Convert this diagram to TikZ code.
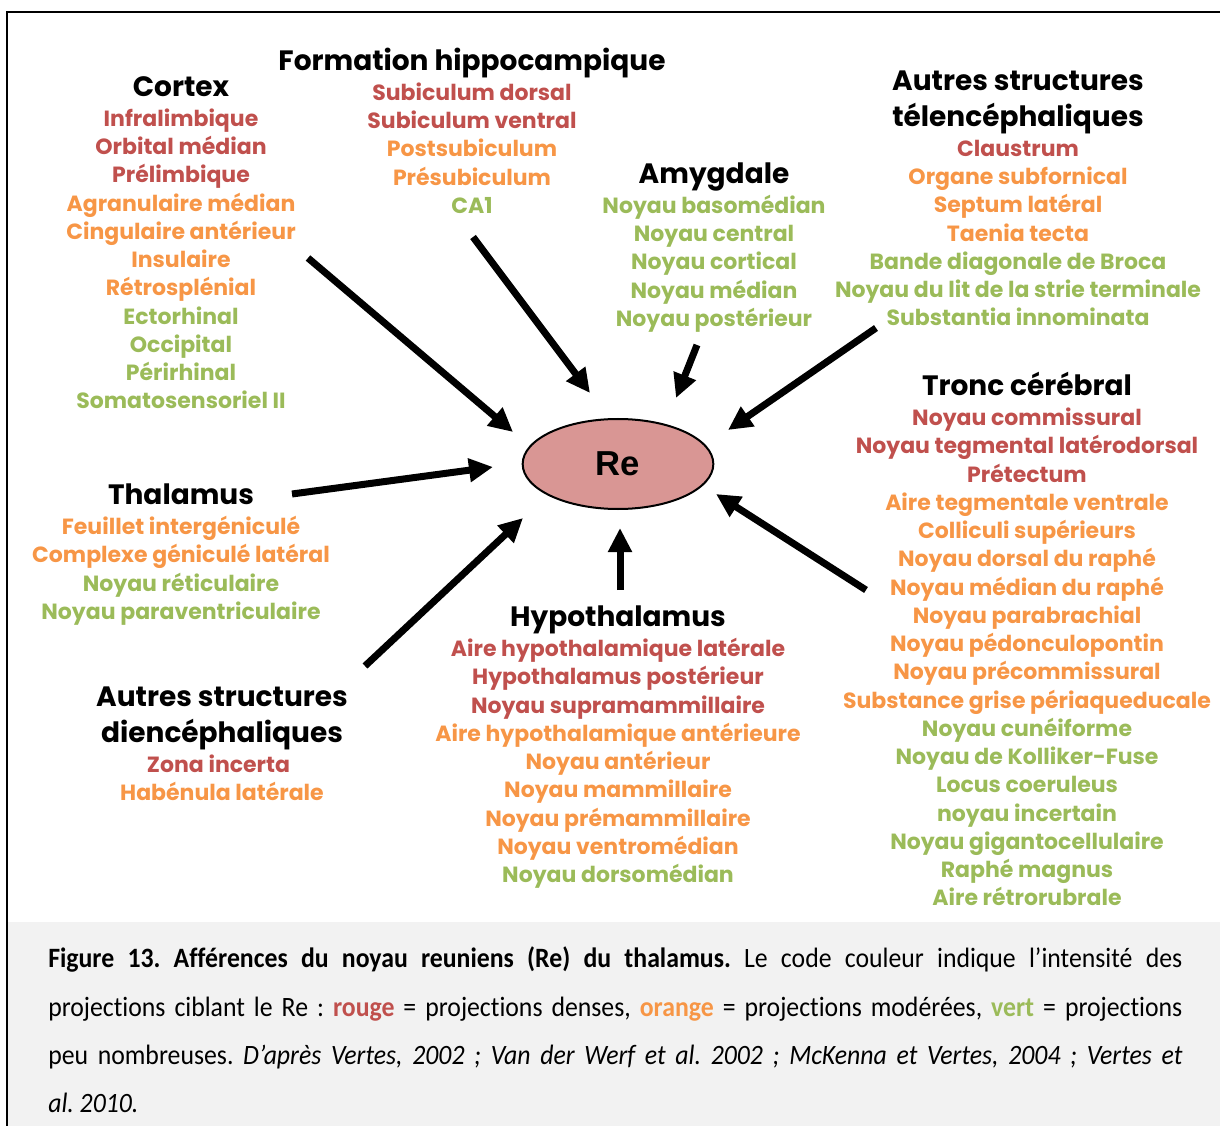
\documentclass[tikz,border=0pt]{standalone}
\usepackage{fontspec}
\setmainfont{Poppins}
\newfontfamily\capfont[Ligatures=NoCommon]{Carlito}
\newfontfamily\refont{Liberation Sans}
\usetikzlibrary{arrows.meta,shapes.geometric}
\definecolor{cred}{HTML}{C0504D}
\definecolor{corg}{HTML}{F79646}
\definecolor{cgrn}{HTML}{9BBB59}
\definecolor{refill}{HTML}{D99694}
\definecolor{capgray}{HTML}{F2F2F2}
\frenchspacing
\newcommand\capline[1]{\scalebox{0.92}[1]{\makebox[924.5pt][s]{#1}}}
\begin{document}
\begin{tikzpicture}[x=0.75pt,y=-0.75pt,
  lbl/.style={anchor=base,inner sep=0pt,font=\fontsize{16.5}{19}\selectfont\bfseries},
  hdr/.style={anchor=base,inner sep=0pt,font=\fontsize{21}{25}\selectfont\bfseries},
  arr/.style={line width=5.25pt,-{Triangle[length=18pt,width=17pt]}},
  capl/.style={anchor=base west,inner sep=0pt,font=\capfont\fontsize{21}{24}\selectfont}]
\useasboundingbox (0,0) rectangle (1220,1126);
% caption background and frame
\fill[capgray] (7,922) rectangle (1220,1126);
\draw[line width=1.5pt] (7,1126) -- (7,12) -- (1220,12);

% central node
\node[ellipse,draw,line width=1.5pt,fill=refill,minimum width=143pt,minimum height=67.5pt,inner sep=0pt,
      font=\refont\bfseries\fontsize{26}{30}\selectfont] (re) at (618,464) {Re};

% Cortex
\node[hdr] (hcortex) at (181,97) {Cortex};
\foreach \t/\c [count=\i from 0] in {Infralimbique/cred,Orbital médian/cred,Prélimbique/cred,
  Agranulaire médian/corg,Cingulaire antérieur/corg,Insulaire/corg,Rétrosplénial/corg,
  Ectorhinal/cgrn,Occipital/cgrn,Périrhinal/cgrn,Somatosensoriel II/cgrn}
  \node[lbl,text=\c] (cx\i) at (181,126.5+28.25*\i) {\t};

% Formation hippocampique
\node[hdr] (hhippo) at (472,71) {Formation hippocampique};
\foreach \t/\c [count=\i from 0] in {Subiculum dorsal/cred,Subiculum ventral/cred,
  Postsubiculum/corg,Présubiculum/corg,CA1/cgrn}
  \node[lbl,text=\c] (hp\i) at (472,100.5+28.25*\i) {\t};

% Amygdale
\node[hdr] (hamyg) at (714,184) {Amygdale};
\foreach \t/\c [count=\i from 0] in {Noyau basomédian/cgrn,Noyau central/cgrn,
  Noyau cortical/cgrn,Noyau médian/cgrn,Noyau postérieur/cgrn}
  \node[lbl,text=\c] (am\i) at (714,213.5+28.25*\i) {\t};

% Autres structures telencephaliques
\node[hdr] (htel1) at (1018,91) {Autres structures};
\node[hdr] (htel2) at (1018,127) {télencéphaliques};
\foreach \t/\c [count=\i from 0] in {Claustrum/cred,Organe subfornical/corg,Septum latéral/corg,
  Taenia tecta/corg,Bande diagonale de Broca/cgrn,Noyau du lit de la strie terminale/cgrn,
  Substantia innominata/cgrn}
  \node[lbl,text=\c] (te\i) at (1018,156.5+28.25*\i) {\t};

% Tronc cerebral
\node[hdr] (htronc) at (1027,396) {Tronc cérébral};
\foreach \t/\c [count=\i from 0] in {Noyau commissural/cred,Noyau tegmental latérodorsal/cred,
  Prétectum/cred,Aire tegmentale ventrale/corg,Colliculi supérieurs/corg,
  Noyau dorsal du raphé/corg,Noyau médian du raphé/corg,Noyau parabrachial/corg,
  Noyau pédonculopontin/corg,Noyau précommissural/corg,Substance grise périaqueducale/corg,
  Noyau cunéiforme/cgrn,Noyau de Kolliker-Fuse/cgrn,Locus coeruleus/cgrn,noyau incertain/cgrn,
  Noyau gigantocellulaire/cgrn,Raphé magnus/cgrn,Aire rétrorubrale/cgrn}
  \node[lbl,text=\c] (tc\i) at (1027,425.5+28.25*\i) {\t};

% Thalamus
\node[hdr] (hthal) at (181,504) {Thalamus};
\foreach \t/\c [count=\i from 0] in {Feuillet intergéniculé/corg,Complexe géniculé latéral/corg,
  Noyau réticulaire/cgrn,Noyau paraventriculaire/cgrn}
  \node[lbl,text=\c] (th\i) at (181,534.5+28.25*\i) {\t};

% Autres structures diencephaliques
\node[hdr] (hdie1) at (222,706) {Autres structures};
\node[hdr] (hdie2) at (222,742) {diencéphaliques};
\node[lbl,text=cred] (di0) at (218.5,772.5) {Zona incerta};
\node[lbl,text=corg] (di1) at (222,800.5) {Habénula latérale};

% Hypothalamus
\node[hdr] (hhypo) at (618,626) {Hypothalamus};
\foreach \t/\c [count=\i from 0] in {Aire hypothalamique latérale/cred,Hypothalamus postérieur/cred,
  Noyau supramammillaire/cred,Aire hypothalamique antérieure/corg,Noyau antérieur/corg,
  Noyau mammillaire/corg,Noyau prémammillaire/corg,Noyau ventromédian/corg,
  Noyau dorsomédian/cgrn}
  \node[lbl,text=\c] (hy\i) at (618,656.5+28.25*\i) {\t};

% arrows
\coordinate (t1) at (308,258); \coordinate (e1) at (513,432);
\coordinate (t2) at (473,237); \coordinate (e2) at (590,393);
\coordinate (t3) at (697,345); \coordinate (e3) at (676,398);
\coordinate (t4) at (876,328); \coordinate (e4) at (728,430);
\coordinate (t5) at (292,494); \coordinate (e5) at (493,467);
\coordinate (t6) at (866,590); \coordinate (e6) at (716,494);
\coordinate (t7) at (620,590); \coordinate (e7) at (620,528);
\coordinate (t8) at (365,666); \coordinate (e8) at (523,518);
\foreach \k in {1,...,8} \draw[arr] (t\k) -- (e\k);

% caption
\node[capl] (cap1) at (48,967) {\capline{\textbf{Figure 13. Afférences du noyau reuniens (Re) du thalamus.} Le code couleur indique l’intensité des}};
\node[capl] (cap2) at (48,1016) {\capline{projections ciblant le Re : \textcolor{cred}{\textbf{rouge}} = projections denses, \textcolor{corg}{\textbf{orange}} = projections modérées, \textcolor{cgrn}{\textbf{vert}} = projections}};
\node[capl] (cap3) at (48,1064) {\capline{peu nombreuses. \textit{D’après Vertes, 2002 ; Van der Werf et al. 2002 ; McKenna et Vertes, 2004 ; Vertes et}}};
\node[capl] (cap4) at (48,1112) {\scalebox{0.92}[1]{\textit{al. 2010.}}};
\end{tikzpicture}
\end{document}
